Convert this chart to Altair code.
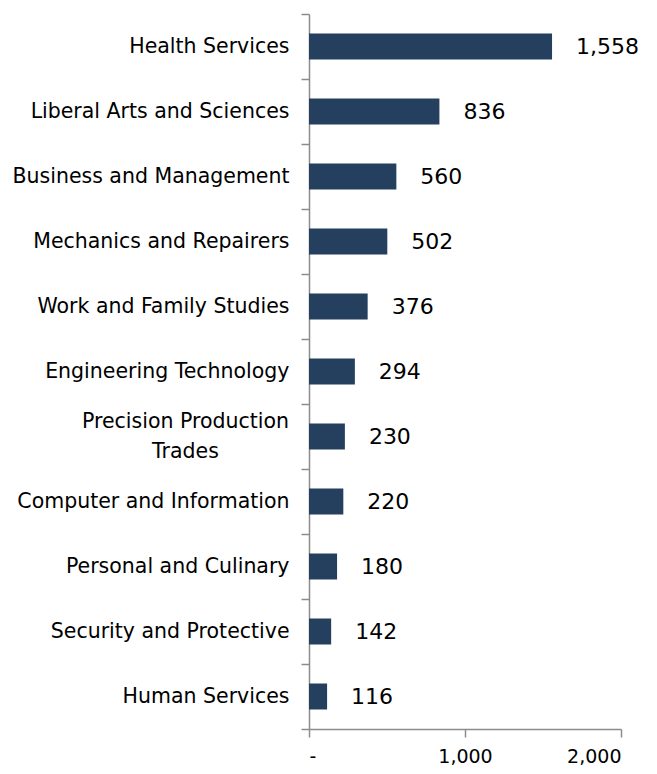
import altair as alt
import pandas as pd

categories = [
    "Health Services",
    "Liberal Arts and Sciences",
    "Business and Management",
    "Mechanics and Repairers",
    "Work and Family Studies",
    "Engineering Technology",
    "Precision Production Trades",
    "Computer and Information",
    "Personal and Culinary",
    "Security and Protective",
    "Human Services",
]
values = [1558, 836, 560, 502, 376, 294, 230, 220, 180, 142, 116]

df = pd.DataFrame({"category": categories, "value": values})

FONT = "DejaVu Sans"
WRAPPED = "Precision Production Trades"
test = f"datum.value == '{WRAPPED}'"

y = alt.Y(
    "category:N",
    sort=categories,
    title=None,
    scale=alt.Scale(paddingInner=0, paddingOuter=0),
    axis=alt.Axis(
        tickBand="extent",
        labelExpr=f"datum.label == '{WRAPPED}' ? ['Precision Production', 'Trades'] : datum.label",
        labelOffset={"condition": {"test": test, "value": -15}, "value": 0},
        labelAlign={"condition": {"test": test, "value": "center"}, "value": "right"},
        labelPadding={"condition": {"test": test, "value": 116}, "value": 12},
        labelFont=FONT,
        labelFontSize=20.5,
        labelColor="#000000",
        labelLineHeight=30,
        tickSize=8,
        tickColor="#8c8c8c",
        tickWidth=1.5,
        domainColor="#8c8c8c",
        domainWidth=1.5,
        labelLimit=400,
    ),
)

x = alt.X(
    "value:Q",
    title=None,
    scale=alt.Scale(domain=[0, 2000], nice=False),
    axis=alt.Axis(
        values=[0, 1000, 2000],
        labelExpr="datum.value == 0 ? '-' : format(datum.value, ',')",
        labelFont=FONT,
        labelFontSize=19,
        labelColor="#000000",
        labelPadding=10,
        tickSize=8,
        tickColor="#8c8c8c",
        tickWidth=1.5,
        domainColor="#8c8c8c",
        domainWidth=1.5,
        grid=False,
    ),
)

bars = alt.Chart(df).mark_bar(
    color="#253f5f", height=alt.RelativeBandSize(0.4)
).encode(x=x, y=y)

text = alt.Chart(df).mark_text(
    align="left", baseline="middle", dx=24, font=FONT, fontSize=22, color="#000000"
).encode(
    x="value:Q",
    y=alt.Y("category:N", sort=categories),
    text=alt.Text("value:Q", format=","),
)

chart = (
    alt.layer(bars, text)
    .properties(
        width=312,
        height=715,
        autosize=alt.AutoSizeParams(type="none"),
        padding={"left": 301, "top": 6, "right": 28, "bottom": 37},
    )
    .configure_view(stroke=None)
)

chart.save("out.html", embed_options={"renderer": "svg", "actions": False})
